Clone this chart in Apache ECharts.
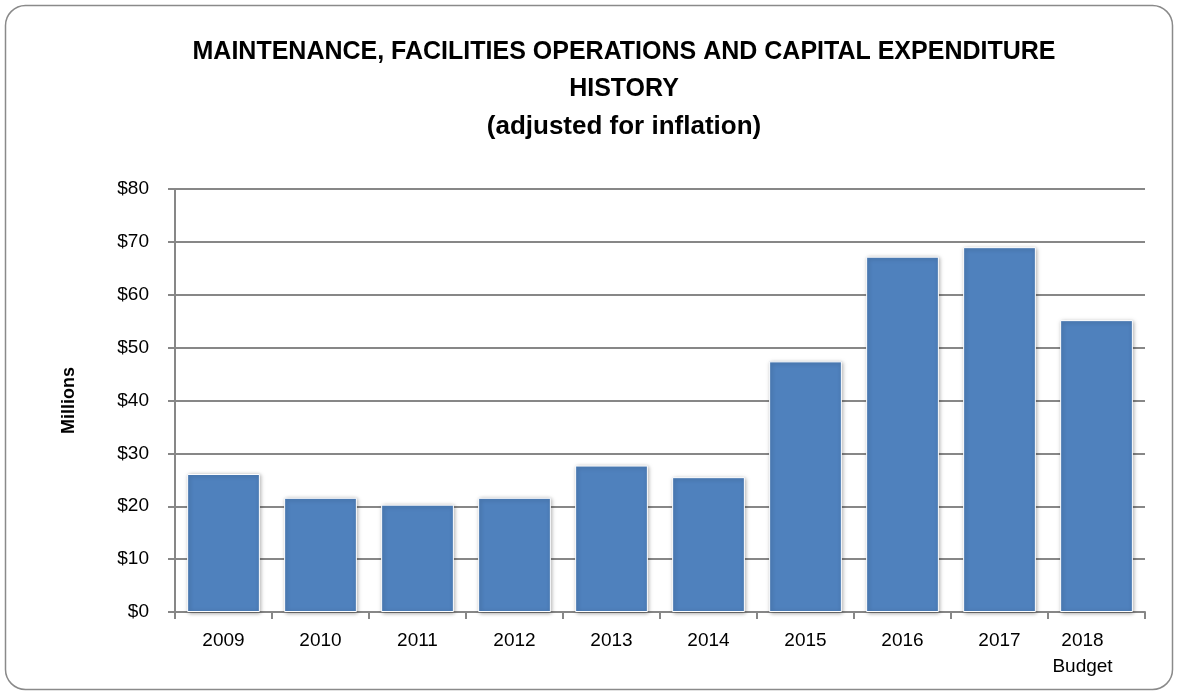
<!DOCTYPE html>
<html><head><meta charset="utf-8">
<script src="https://cdn.jsdelivr.net/npm/echarts@6/dist/echarts.min.js"></script>
<style>html,body{margin:0;padding:0;background:#fff}#c{width:1180px;height:695px}</style>
</head><body><div id="c"></div>
<script>
const categories = ['2009','2010','2011','2012','2013','2014','2015','2016','2017','2018\nBudget'];
const values = [26.1, 21.6, 20.3, 21.6, 27.7, 25.5, 47.4, 67.2, 69.0, 55.2];
const yTicks = [0, 10, 20, 30, 40, 50, 60, 70, 80];
const titleLines = ['MAINTENANCE, FACILITIES OPERATIONS AND CAPITAL EXPENDITURE', 'HISTORY', '(adjusted for inflation)'];

const chart = echarts.init(document.getElementById('c'), null, {renderer:'canvas'});
const grey = '#878787';
const font = '"Liberation Sans", Arial, sans-serif';
const titleTops = [37, 74, 112];
const titleSizes = [25, 25, 26];
const catData = categories.map(function(c, i){
  return i === categories.length - 1 ? {value: c, textStyle: {padding: [0, 28, 0, 0]}} : c;
});
chart.setOption({
  animation: false,
  title: titleLines.map(function(t, i){
    return {text: t, left: 624, textAlign: 'center', top: titleTops[i], padding: 0,
      textStyle: {fontFamily: font, fontWeight: 'bold', fontSize: titleSizes[i], lineHeight: 30, color: '#000'}};
  }),
  graphic: [{
    type: 'rect', shape: {x: 5.5, y: 5.5, width: 1167, height: 684, r: 20},
    style: {fill: 'none', stroke: '#8a8a8a', lineWidth: 1.5}, z: -1, silent: true
  }],
  grid: {left: 175, right: 35, top: 189, bottom: 83, containLabel: false},
  xAxis: {
    type: 'category', data: catData,
    axisLine: {lineStyle: {color: grey, width: 2}},
    axisTick: {show: true, length: 7, lineStyle: {color: grey, width: 2}},
    axisLabel: {color: '#000', fontFamily: font, fontSize: 19, margin: 16, lineHeight: 26, interval: 0}
  },
  yAxis: {
    type: 'value', min: 0, max: 80, interval: 10,
    name: 'Millions', nameLocation: 'middle', nameGap: 97, nameRotate: 90,
    nameTextStyle: {fontFamily: font, fontWeight: 'bold', fontSize: 18, color: '#000'},
    axisLine: {show: true, lineStyle: {color: grey, width: 2}},
    axisTick: {show: true, length: 7, lineStyle: {color: grey, width: 2}},
    splitLine: {lineStyle: {color: grey, width: 2}},
    axisLabel: {color: '#000', fontFamily: font, fontSize: 19, margin: 26,
      formatter: function(v){ return yTicks.indexOf(v) >= 0 ? '$' + v : ''; }}
  },
  series: [{
    type: 'bar', data: values, barCategoryGap: '25%',
    itemStyle: {color: '#4f81bd', borderColor: '#ffffff', borderWidth: 1,
      shadowColor: 'rgba(0,0,0,0.35)', shadowBlur: 4, shadowOffsetX: 1, shadowOffsetY: 1}
  }]
});
</script></body></html>
